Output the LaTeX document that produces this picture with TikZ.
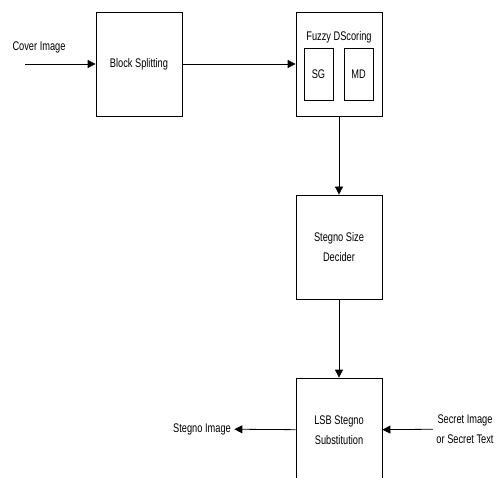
\documentclass[tikz,border=0pt]{standalone}
\usepackage{fontspec}
\setmainfont{Liberation Sans}[FakeStretch=0.74]
\usetikzlibrary{arrows.meta,positioning}

\begin{document}
\begin{tikzpicture}[
	x = 1pt, y = -1pt,
	node distance = 183pt,
	on grid,
	> = {Triangle[length=8pt,width=8pt]},
	every node/.style = {font=\fontsize{12.5pt}{20pt}\selectfont},
	block/.style = {draw, line width=0.8pt, minimum width=86pt, minimum height=104pt, align=center},
	part/.style = {draw, line width=0.8pt, minimum width=29pt, minimum height=52pt},
	flow/.style = {->, line width=0.8pt}
	]
	\clip (0,0) rectangle (497,478);
	% main blocks
	\node[block] (F) at (339,64) {};
	\node[block] (B) [left=200pt of F] {Block Splitting};
	\node[block] (D) [below=of F] {Stegno Size\\Decider};
	\node[block] (L) [below=of D] {LSB Stegno\\Substitution};
	% inside the fuzzy block
	\node (title) [below=16pt of F.north] {Fuzzy DScoring};
	\node[part] (SG) at (318.5,74) {SG};
	\node[part] (MD) at (358.5,74) {MD};
	% inputs and outputs
	\coordinate (cin) at (25,64);
	\node (cover) at (39,47) {Cover Image};
	\node (simg) at (202,429) {Stegno Image};
	\node (sec) at (465,429) [align=center] {Secret Image\\or Secret Text};
	\draw[flow] (cin) -- (B);
	\draw[flow] (B) -- (F);
	\draw[flow] (F) -- (D);
	\draw[flow] (D) -- (L);
	\draw[flow] (L) -- (simg);
	\draw[flow] (sec) -- (L);
\end{tikzpicture}
\end{document}
